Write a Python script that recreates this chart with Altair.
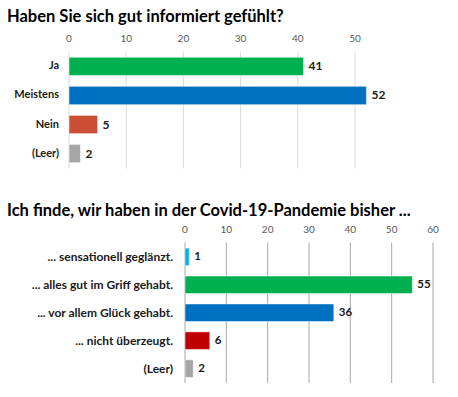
import altair as alt
import pandas as pd

# Chart 1
q1_title = "Haben Sie sich gut informiert gefühlt?"
q1_cats = ["Ja", "Meistens", "Nein", "(Leer)"]
q1_vals = [41, 52, 5, 2]
q1_cols = ["#00B050", "#0070C0", "#CB4E37", "#A6A6A6"]
q1_ticks = [0, 10, 20, 30, 40, 50]

# Chart 2
q2_title = "Ich finde, wir haben in der Covid-19-Pandemie bisher ..."
q2_cats = ["... sensationell geglänzt.", "... alles gut im Griff gehabt.",
           "... vor allem Glück gehabt.", "... nicht überzeugt.", "(Leer)"]
q2_vals = [1, 55, 36, 6, 2]
q2_cols = ["#00B0F0", "#00B050", "#0070C0", "#C00000", "#A6A6A6"]
q2_ticks = [0, 10, 20, 30, 40, 50, 60]

FONT = "Lato"
W, H = 440, 376


def panel(title, cats, vals, cols, ticks, xmax, xrange, yrange, grid_col,
          tick_y, title_y, cat_x, cat_size, value_size):
    df = pd.DataFrame({"cat": cats, "val": vals, "col": cols})
    tdf = pd.DataFrame({"t": ticks})
    hdf = pd.DataFrame({"title": [title]})
    xs = alt.Scale(domain=[0, xmax], range=xrange, nice=False)
    ys = alt.Scale(domain=cats, range=yrange, paddingInner=0.37,
                   paddingOuter=0.2)
    X = lambda f: alt.X(f, scale=xs, axis=None)
    Y = alt.Y("cat:N", sort=cats, scale=ys, axis=None)

    grid = alt.Chart(tdf).mark_rule(color=grid_col, strokeWidth=1).encode(
        x=X("t:Q"), y=alt.value(yrange[0]), y2=alt.value(yrange[1]))
    tlab = alt.Chart(tdf).mark_text(font=FONT, fontSize=10, color="#595959",
                                    baseline="middle").encode(
        x=X("t:Q"), y=alt.value(tick_y), text="t:Q")
    bars = alt.Chart(df).mark_bar(stroke="white", strokeWidth=0.5).encode(
        x=X("val:Q"), y=Y, color=alt.Color("col:N", scale=None))
    vals_t = alt.Chart(df).mark_text(align="left", baseline="middle", dx=5,
                                     font=FONT, fontWeight="bold",
                                     fontSize=value_size,
                                     color="#1a1a1a").encode(
        x=X("val:Q"), y=Y, text="val:Q")
    cats_t = alt.Chart(df).mark_text(align="right", baseline="middle",
                                     font=FONT, fontWeight="bold",
                                     fontSize=cat_size,
                                     color="#1a1a1a").encode(
        x=alt.value(cat_x), y=Y, text="cat:N")
    head = alt.Chart(hdf).mark_text(align="left", baseline="alphabetic",
                                    font=FONT, fontWeight="bold",
                                    fontSize=16.5, color="#000000").encode(
        x=alt.value(-1), y=alt.value(title_y), text="title:N")
    return [grid, tlab, bars, vals_t, cats_t, head]


layers = panel(q1_title, q1_cats, q1_vals, q1_cols, q1_ticks, 55,
               [61, 375.6], [43.5, 160.5], "#D9D9D9", 30.5, 13.5, 51, 11, 12)
layers += panel(q2_title, q2_cats, q2_vals, q2_cols, q2_ticks, 60,
                [177, 425], [234.5, 375], "#A6A6A6", 221.5, 207.5, 165, 12,
                11.5)

chart = alt.layer(*layers).resolve_scale(
    x="independent", y="independent"
).properties(
    width=W, height=H, padding=0,
    autosize=alt.AutoSizeParams(type="none")
).configure_view(stroke=None)

chart.save("out.html", embed_options={"renderer": "svg", "actions": False})
